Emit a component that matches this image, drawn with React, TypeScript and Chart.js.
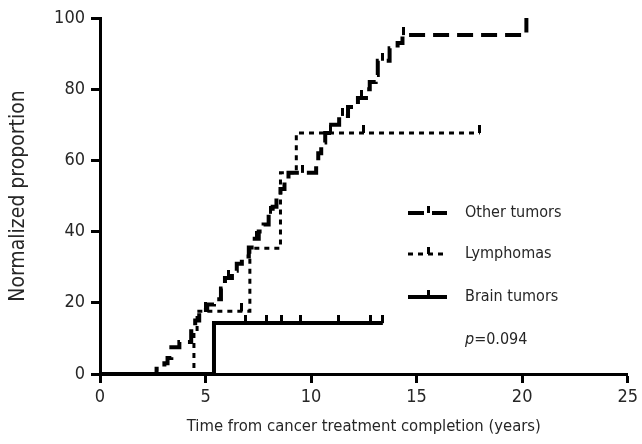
import React, { useEffect, useRef } from "react";
import { Chart, registerables } from "chart.js";

Chart.register(...registerables);

// ---------- data ----------
const xTicks = [0, 5, 10, 15, 20, 25];
const yTicks = [0, 20, 40, 60, 80, 100];

const seriesLabels = ["Other tumors", "Lymphomas", "Brain tumors"];
const pValueText = "=0.094";

const otherTimes = [0, 2.68, 3.05, 3.2, 3.38, 3.76, 4.32, 4.51, 4.7, 5.08, 5.4, 5.73, 5.92, 6.25, 6.48, 6.72, 7.05, 7.33, 7.52, 7.75, 7.99, 8.18, 8.36, 8.55, 8.74, 8.93, 10.24, 10.34, 10.48, 10.67, 10.95, 11.33, 11.75, 12.22, 12.6, 12.78, 13.06, 13.16, 13.72, 14.1, 14.33, 20.1, 20.2];
const otherValues = [0, 1.5, 3, 4.5, 7.5, 9, 12, 15, 18, 19.5, 21, 24, 27, 29, 31, 33, 35.5, 38, 40, 42, 45, 47, 49.5, 52, 54.5, 56.5, 59, 62, 65, 67.7, 70, 72.5, 75, 77.5, 80, 82, 84, 88, 91.5, 93, 95.2, 95.2, 100];

const lymphTimes = [0, 4.45, 4.6, 7.1, 8.55, 9.3, 18.0];
const lymphValues = [0, 11.8, 17.6, 35.3, 56.5, 67.7, 67.7];

const brainTimes = [0, 5.4, 13.4];
const brainValues = [0, 14.3, 14.3];

const otherCensorTimes = [5.0, 6.1, 7.4, 8.1, 9.6, 10.9, 11.5, 12.4, 13.4, 14.4];
const otherCensorValues = [18, 27, 38, 45, 56.5, 67.7, 72.5, 77.5, 88, 95.2];

const lymphCensorTimes = [6.7, 12.5, 18.0];
const lymphCensorValues = [17.6, 67.7, 67.7];

const brainCensorTimes = [6.9, 7.9, 8.6, 9.5, 11.3, 12.8, 13.4];
const brainCensorValues = [14.3, 14.3, 14.3, 14.3, 14.3, 14.3, 14.3];

// ---------- styles ----------
const FONT = "'Liberation Sans Narrow', 'DejaVu Sans Condensed', Roboto, sans-serif";
const TEXT = "#262626";
const INK = "#000";

const otherStyle = { width: 4, dash: [16, 8] };
const lymphStyle = { width: 3, dash: [5, 5] };
const brainStyle = { width: 4, dash: [] as number[] };

function toPoints(xs: number[], ys: number[]) {
  return xs.map((x, i) => ({ x, y: ys[i] }));
}

function makeTick(): HTMLCanvasElement {
  const c = document.createElement("canvas");
  c.width = 3;
  c.height = 16;
  const g = c.getContext("2d")!;
  g.fillStyle = INK;
  g.fillRect(0, 0, 3, 8);
  return c;
}

const legendPlugin = {
  id: "kmLegend",
  afterDraw(chart: any) {
    const { ctx, chartArea } = chart;
    const x0 = chartArea.left + 308;
    const x1 = x0 + 39;
    const tx = chartArea.left + 365;
    const rows = [chartArea.top + 195, chartArea.top + 236, chartArea.top + 279];
    const styles = [otherStyle, lymphStyle, brainStyle];
    ctx.save();
    rows.forEach((y, i) => {
      const s = styles[i];
      ctx.strokeStyle = INK;
      ctx.lineWidth = s.width;
      ctx.setLineDash(s.dash);
      ctx.beginPath();
      ctx.moveTo(x0, y);
      ctx.lineTo(x1, y);
      ctx.stroke();
      ctx.setLineDash([]);
      ctx.fillStyle = INK;
      ctx.fillRect(x0 + 19, y - 7, 3, 7);
      ctx.fillStyle = TEXT;
      ctx.font = `16px ${FONT}`;
      ctx.textBaseline = "middle";
      ctx.textAlign = "left";
      ctx.fillText(seriesLabels[i], tx, y);
    });
    const py = chartArea.top + 322;
    ctx.font = `italic 16px ${FONT}`;
    ctx.fillStyle = TEXT;
    ctx.fillText("p", tx, py);
    const w = ctx.measureText("p").width;
    ctx.font = `16px ${FONT}`;
    ctx.fillText(pValueText, tx + w, py);
    ctx.restore();
  },
};

export default function App() {
  const ref = useRef<HTMLCanvasElement>(null);

  useEffect(() => {
    if (!ref.current) return;
    const tick = makeTick();
    const lineBase = {
      type: "line" as const,
      borderColor: INK,
      backgroundColor: INK,
      pointRadius: 0,
      stepped: "before" as const,
      fill: false,
      clip: false as any,
      borderCapStyle: "butt" as const,
      borderJoinStyle: "miter" as const,
    };
    const censorBase = {
      type: "scatter" as const,
      pointStyle: tick,
      pointRadius: 4,
      showLine: false,
      clip: false as any,
    };
    const chart = new Chart(ref.current, {
      type: "line",
      data: {
        datasets: [
          { ...lineBase, label: seriesLabels[2], data: toPoints(brainTimes, brainValues), borderWidth: brainStyle.width, borderDash: brainStyle.dash },
          { ...lineBase, label: seriesLabels[1], data: toPoints(lymphTimes, lymphValues), borderWidth: lymphStyle.width, borderDash: lymphStyle.dash },
          { ...lineBase, label: seriesLabels[0], data: toPoints(otherTimes, otherValues), borderWidth: otherStyle.width, borderDash: otherStyle.dash },
          { ...censorBase, label: "c0", data: toPoints(otherCensorTimes, otherCensorValues) },
          { ...censorBase, label: "c1", data: toPoints(lymphCensorTimes, lymphCensorValues) },
          { ...censorBase, label: "c2", data: toPoints(brainCensorTimes, brainCensorValues) },
        ] as any,
      },
      options: {
        responsive: false,
        animation: false,
        events: [],
        layout: { padding: { left: 0, top: 18, right: 10, bottom: 0 } },
        plugins: { legend: { display: false }, tooltip: { enabled: false } },
        scales: {
          x: {
            type: "linear",
            min: xTicks[0],
            max: xTicks[xTicks.length - 1],
            afterBuildTicks: (s: any) => { s.ticks = xTicks.map((v) => ({ value: v })); },
            afterFit: (s: any) => { s.height = 70; },
            ticks: { color: TEXT, font: { family: FONT, size: 18 }, padding: 4 },
            grid: { drawOnChartArea: false, drawTicks: true, tickLength: 9, tickWidth: 3, tickColor: INK },
            border: { display: true, width: 3, color: INK },
            title: { display: true, text: "Time from cancer treatment completion (years)", color: TEXT, font: { family: FONT, size: 16.5 }, padding: { top: 0, bottom: 7 } },
          },
          y: {
            type: "linear",
            min: yTicks[0],
            max: yTicks[yTicks.length - 1],
            afterBuildTicks: (s: any) => { s.ticks = yTicks.map((v) => ({ value: v })); },
            afterFit: (s: any) => { s.width = 100; },
            ticks: { color: TEXT, font: { family: FONT, size: 18 }, padding: 6 },
            grid: { drawOnChartArea: false, drawTicks: true, tickLength: 9, tickWidth: 3, tickColor: INK },
            border: { display: true, width: 3, color: INK },
            title: { display: true, text: "Normalized proportion", color: TEXT, font: { family: FONT, size: 21 }, padding: { top: 6, bottom: 0 } },
          },
        },
      } as any,
      plugins: [legendPlugin],
    });
    return () => chart.destroy();
  }, []);

  return (
    <div style={{ position: "fixed", left: 0, top: 0, width: 642, height: 444, background: "#fff" }}>
      <canvas ref={ref} width={642} height={444} style={{ display: "block", width: 642, height: 444 }} />
    </div>
  );
}
